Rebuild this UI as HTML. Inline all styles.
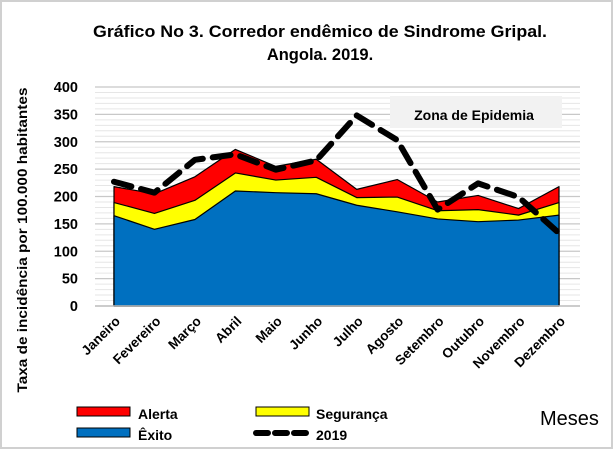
<!DOCTYPE html>
<html><head><meta charset="utf-8"><style>
body{margin:0;background:#fff}
svg{display:block;font-family:"Liberation Sans",sans-serif}
</style></head><body>
<svg id="c" width="613" height="449" viewBox="0 0 613 449">
<rect x="1" y="1" width="611" height="447" fill="#fff" stroke="#d0d0d0" stroke-width="2"/>
<text x="320" y="37" text-anchor="middle" font-size="16.5" font-weight="bold" textLength="454" lengthAdjust="spacingAndGlyphs">Gráfico No 3. Corredor endêmico de Sindrome Gripal.</text>
<text x="320" y="60" text-anchor="middle" font-size="16.5" font-weight="bold">Angola. 2019.</text>
<text transform="translate(27,240) rotate(-90)" text-anchor="middle" font-size="14" font-weight="bold" textLength="305" lengthAdjust="spacingAndGlyphs">Taxa de incidência por 100.000 habitantes</text>
<g id="grid"></g>
<rect x="390" y="96" width="172" height="32" fill="#f2f2f2"/>
<text x="474" y="120" text-anchor="middle" font-size="14" font-weight="bold">Zona de Epidemia</text>
<g id="areas"></g>
<g id="ticks"></g>
<g>
<rect x="77" y="407" width="53" height="9" fill="#f00" stroke="#000"/>
<text x="138" y="419" font-size="14" font-weight="bold">Alerta</text>
<rect x="77" y="428" width="53" height="9" fill="#0070c0" stroke="#000"/>
<text x="138" y="440" font-size="14" font-weight="bold">Êxito</text>
<rect x="256" y="407" width="53" height="9" fill="#ff0" stroke="#000"/>
<text x="316" y="419" font-size="14" font-weight="bold">Segurança</text>
<line x1="256" y1="433" x2="307" y2="433" stroke="#000" stroke-width="6" stroke-dasharray="12,7" stroke-linecap="round"/>
<text x="316" y="440" font-size="14" font-weight="bold">2019</text>
</g>
<text x="540" y="425" font-size="20">Meses</text>
</svg>
<script>
const months=["Janeiro","Fevereiro","Março","Abril","Maio","Junho","Julho","Agosto","Setembro","Outubro","Novembro","Dezembro"];
const exito=[165,140,158,210,207,205,184,172,159,154,157,166];
const seguranca=[189,169,193,243,230,235,198,199,174,176,166,189];
const alerta=[218,205,236,286,255,268,213,231,190,202,178,218];
const y2019=[227,207,267,277,249,266,348,303,176,224,199,133];
const yTicks=[0,50,100,150,200,250,300,350,400];
const NS="http://www.w3.org/2000/svg";
const X=i=>114+i*(559-114)/11;
const Y=v=>306-v*219/400;
function mk(t,a,p){const e=document.createElementNS(NS,t);for(const k in a)e.setAttribute(k,a[k]);p.appendChild(e);return e;}
const grid=document.getElementById('grid'),areas=document.getElementById('areas'),ticks=document.getElementById('ticks');
for(let v=10;v<=400;v+=10){
 const g=mk('line',{x1:95,x2:580,y1:Y(v),y2:Y(v),stroke:v%50==0?'#c8c8c8':'#e6e6e6','stroke-width':v%50==0?1.2:1},grid);
 
 
}
yTicks.forEach(v=>{
 const t=mk('text',{x:78,y:Y(v)+5,'text-anchor':'end','font-size':14.5,'font-weight':'bold'},ticks);
 t.textContent=v;
 
 
});
function area(top,col,name){
 let d='M'+X(0)+','+Y(0);
 top.forEach((v,i)=>d+=' L'+X(i)+','+Y(v));
 d+=' L'+X(11)+','+Y(0)+' Z';
 const p=mk('path',{d:d,fill:col,stroke:'#000','stroke-width':1.2,'stroke-linejoin':'round'},areas);
 
 
}
area(alerta,'#f00','area-alerta');
area(seguranca,'#ff0','area-seguranca');
area(exito,'#0070c0','area-exito');
const ax=mk('line',{x1:95,x2:580,y1:Y(0),y2:Y(0),stroke:'#bbb','stroke-width':1.5},areas);


const ln=mk('polyline',{points:y2019.map((v,i)=>X(i)+','+Y(v)).join(' '),fill:'none',stroke:'#000','stroke-width':6,'stroke-dasharray':'18,10','stroke-linecap':'round','stroke-linejoin':'round'},areas);


months.forEach((m,i)=>{
 const t=mk('text',{transform:'translate('+(X(i)+7)+',322) rotate(-45)','text-anchor':'end','font-size':13.5,'font-weight':'bold'},ticks);
 t.textContent=m;
 
 
});
</script>
</body></html>
